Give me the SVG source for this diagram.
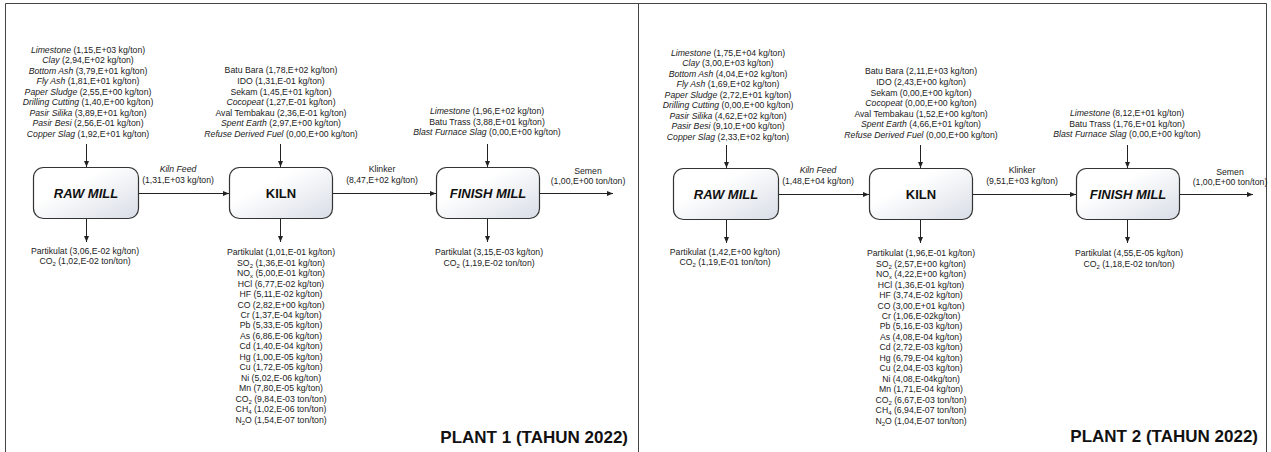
<svg xmlns="http://www.w3.org/2000/svg" width="1271" height="452" viewBox="0 0 1271 452">
<style>
.t{font-family:"Liberation Sans",Arial,sans-serif;font-size:8.7px;fill:#222;text-anchor:middle}
.i{font-style:italic}
.box{fill:url(#gr);stroke:#333;stroke-width:1.2}
.lbl{font-family:"Liberation Sans",Arial,sans-serif;font-size:13px;font-weight:bold;fill:#111;text-anchor:middle}
.edge{stroke:#222;stroke-width:1;fill:none;marker-end:url(#ah)}
.title{font-family:"Liberation Sans",Arial,sans-serif;font-size:17px;font-weight:bold;fill:#111;text-anchor:end}
.frame{stroke:#444;stroke-width:1;fill:none}
.sub{font-size:6px}
</style>
<defs>
<linearGradient id="gr" x1="0" y1="0" x2="1" y2="1">
<stop offset="0.35" stop-color="#ffffff"/>
<stop offset="1" stop-color="#d8dde6"/>
</linearGradient>
<marker id="ah" markerUnits="userSpaceOnUse" markerWidth="7" markerHeight="6" refX="6" refY="2.5" orient="auto">
<path d="M0,0 L6,2.5 L0,5 z" fill="#222"/>
</marker>
</defs>
<rect width="1271" height="452" fill="#fff"/>
<g id="frame">
<path class="frame" d="M5.5,460 V3.5 H1266.5 V460 M638.5,3.5 V460"/>
</g>

<g id="plant1">
<g id="connectors1">
<line class="edge" x1="86.5" y1="144" x2="86.5" y2="167"/>
<line class="edge" x1="280.5" y1="144" x2="280.5" y2="167"/>
<line class="edge" x1="487.5" y1="144" x2="487.5" y2="167"/>
<line class="edge" x1="138" y1="193.5" x2="229" y2="193.5"/>
<line class="edge" x1="332" y1="193.5" x2="436" y2="193.5"/>
<line class="edge" x1="539" y1="193.5" x2="613" y2="193.5"/>
<line class="edge" x1="86.5" y1="218" x2="86.5" y2="242"/>
<line class="edge" x1="280.5" y1="218" x2="280.5" y2="242"/>
<line class="edge" x1="487.5" y1="218" x2="487.5" y2="242"/>
</g>
<g id="rawmill1">
<rect class="box" x="33.5" y="167.5" width="105" height="51" rx="10"/>
<text class="lbl i" x="86" y="198">RAW MILL</text>
</g>
<g id="kiln1">
<rect class="box" x="229.5" y="167.5" width="103" height="51" rx="10"/>
<text class="lbl" x="281" y="198">KILN</text>
</g>
<g id="finishmill1">
<rect class="box" x="436.5" y="167.5" width="103" height="51" rx="10"/>
<text class="lbl i" x="488" y="198">FINISH MILL</text>
</g>
<g id="rawin1">
<text class="t" x="88" y="52.5"><tspan class="i">Limestone</tspan> (1,15,E+03 kg/ton)</text>
<text class="t" x="88" y="63"><tspan class="i">Clay</tspan> (2,94,E+02 kg/ton)</text>
<text class="t" x="88" y="73.5"><tspan class="i">Bottom Ash</tspan> (3,79,E+01 kg/ton)</text>
<text class="t" x="88" y="84"><tspan class="i">Fly Ash</tspan> (1,81,E+01 kg/ton)</text>
<text class="t" x="88" y="94.5"><tspan class="i">Paper Sludge</tspan> (2,55,E+00 kg/ton)</text>
<text class="t" x="88" y="105"><tspan class="i">Drilling Cutting</tspan> (1,40,E+00 kg/ton)</text>
<text class="t" x="88" y="115.5"><tspan class="i">Pasir Silika</tspan> (3,89,E+01 kg/ton)</text>
<text class="t" x="88" y="126"><tspan class="i">Pasir Besi</tspan> (2,56,E-01 kg/ton)</text>
<text class="t" x="88" y="136.5"><tspan class="i">Copper Slag</tspan> (1,92,E+01 kg/ton)</text>
</g>
<g id="kilnin1">
<text class="t" x="281" y="73.3">Batu Bara (1,78,E+02 kg/ton)</text>
<text class="t" x="281" y="83.9">IDO (1,31,E-01 kg/ton)</text>
<text class="t" x="281" y="94.5">Sekam (1,45,E+01 kg/ton)</text>
<text class="t" x="281" y="105.1"><tspan class="i">Cocopeat</tspan> (1,27,E-01 kg/ton)</text>
<text class="t" x="281" y="115.7">Aval Tembakau (2,36,E-01 kg/ton)</text>
<text class="t" x="281" y="126.3"><tspan class="i">Spent Earth</tspan> (2,97,E+00 kg/ton)</text>
<text class="t" x="281" y="136.9"><tspan class="i">Refuse Derived Fuel</tspan> (0,00,E+00 kg/ton)</text>
</g>
<g id="finishin1">
<text class="t" x="487" y="114"><tspan class="i">Limestone</tspan> (1,96,E+02 kg/ton)</text>
<text class="t" x="487" y="124.5">Batu Trass (3,88,E+01 kg/ton)</text>
<text class="t" x="487" y="135"><tspan class="i">Blast Furnace Slag</tspan> (0,00,E+00 kg/ton)</text>
</g>
<g id="flows1">
<text class="t i" x="178" y="172.3">Kiln Feed</text>
<text class="t" x="178" y="183">(1,31,E+03 kg/ton)</text>
<text class="t" x="382" y="172">Klinker</text>
<text class="t" x="382" y="182.5">(8,47,E+02 kg/ton)</text>
<text class="t" x="588" y="173.5">Semen</text>
<text class="t" x="588" y="184">(1,00,E+00 ton/ton)</text>
</g>
<g id="rawout1">
<text class="t" x="85" y="253.5">Partikulat (3,06,E-02 kg/ton)</text>
<text class="t" x="85" y="264">CO<tspan class="sub" dy="2">2</tspan><tspan dy="-2"> (1,02,E-02 ton/ton)</tspan></text>
</g>
<g id="kilnout1">
<text class="t" x="281" y="255.3">Partikulat (1,01,E-01 kg/ton)</text>
<text class="t" x="281" y="265.75">SO<tspan class="sub" dy="2">2</tspan><tspan dy="-2"> (1,36,E-01 kg/ton)</tspan></text>
<text class="t" x="281" y="276.2">NO<tspan class="sub" dy="2">x</tspan><tspan dy="-2"> (5,00,E-01 kg/ton)</tspan></text>
<text class="t" x="281" y="286.65">HCl (6,77,E-02 kg/ton)</text>
<text class="t" x="281" y="297.1">HF (5,11,E-02 kg/ton)</text>
<text class="t" x="281" y="307.55">CO (2,82,E+00 kg/ton)</text>
<text class="t" x="281" y="318">Cr (1,37,E-04 kg/ton)</text>
<text class="t" x="281" y="328.45">Pb (5,33,E-05 kg/ton)</text>
<text class="t" x="281" y="338.9">As (6,86,E-06 kg/ton)</text>
<text class="t" x="281" y="349.35">Cd (1,40,E-04 kg/ton)</text>
<text class="t" x="281" y="359.8">Hg (1,00,E-05 kg/ton)</text>
<text class="t" x="281" y="370.25">Cu (1,72,E-05 kg/ton)</text>
<text class="t" x="281" y="380.7">Ni (5,02,E-06 kg/ton)</text>
<text class="t" x="281" y="391.15">Mn (7,80,E-05 kg/ton)</text>
<text class="t" x="281" y="401.6">CO<tspan class="sub" dy="2">2</tspan><tspan dy="-2"> (9,84,E-03 ton/ton)</tspan></text>
<text class="t" x="281" y="412.05">CH<tspan class="sub" dy="2">4</tspan><tspan dy="-2"> (1,02,E-06 ton/ton)</tspan></text>
<text class="t" x="281" y="422.5">N<tspan class="sub" dy="2">2</tspan><tspan dy="-2">O (1,54,E-07 ton/ton)</tspan></text>
</g>
<g id="finishout1">
<text class="t" x="489" y="255.3">Partikulat (3,15,E-03 kg/ton)</text>
<text class="t" x="489" y="266">CO<tspan class="sub" dy="2">2</tspan><tspan dy="-2"> (1,19,E-02 ton/ton)</tspan></text>
</g>
</g>
<text id="title1" class="title" x="628" y="443">PLANT 1 (TAHUN 2022)</text>

<g id="plant2" transform="translate(640,1)">
<g id="connectors2">
<line class="edge" x1="86.5" y1="144" x2="86.5" y2="167"/>
<line class="edge" x1="280.5" y1="144" x2="280.5" y2="167"/>
<line class="edge" x1="487.5" y1="144" x2="487.5" y2="167"/>
<line class="edge" x1="138" y1="193.5" x2="229" y2="193.5"/>
<line class="edge" x1="332" y1="193.5" x2="436" y2="193.5"/>
<line class="edge" x1="539" y1="193.5" x2="613" y2="193.5"/>
<line class="edge" x1="86.5" y1="218" x2="86.5" y2="242"/>
<line class="edge" x1="280.5" y1="218" x2="280.5" y2="242"/>
<line class="edge" x1="487.5" y1="218" x2="487.5" y2="242"/>
</g>
<g id="rawmill2">
<rect class="box" x="33.5" y="167.5" width="105" height="51" rx="10"/>
<text class="lbl i" x="86" y="198">RAW MILL</text>
</g>
<g id="kiln2">
<rect class="box" x="229.5" y="167.5" width="103" height="51" rx="10"/>
<text class="lbl" x="281" y="198">KILN</text>
</g>
<g id="finishmill2">
<rect class="box" x="436.5" y="167.5" width="103" height="51" rx="10"/>
<text class="lbl i" x="488" y="198">FINISH MILL</text>
</g>
<g id="rawin2">
<text class="t" x="88" y="54.5"><tspan class="i">Limestone</tspan> (1,75,E+04 kg/ton)</text>
<text class="t" x="88" y="65"><tspan class="i">Clay</tspan> (3,00,E+03 kg/ton)</text>
<text class="t" x="88" y="75.5"><tspan class="i">Bottom Ash</tspan> (4,04,E+02 kg/ton)</text>
<text class="t" x="88" y="86"><tspan class="i">Fly Ash</tspan> (1,69,E+02 kg/ton)</text>
<text class="t" x="88" y="96.5"><tspan class="i">Paper Sludge</tspan> (2,72,E+01 kg/ton)</text>
<text class="t" x="88" y="107"><tspan class="i">Drilling Cutting</tspan> (0,00,E+00 kg/ton)</text>
<text class="t" x="88" y="117.5"><tspan class="i">Pasir Silika</tspan> (4,62,E+02 kg/ton)</text>
<text class="t" x="88" y="128"><tspan class="i">Pasir Besi</tspan> (9,10,E+00 kg/ton)</text>
<text class="t" x="88" y="138.5"><tspan class="i">Copper Slag</tspan> (2,33,E+02 kg/ton)</text>
</g>
<g id="kilnin2">
<text class="t" x="281" y="73.3">Batu Bara (2,11,E+03 kg/ton)</text>
<text class="t" x="281" y="83.9">IDO (2,43,E+00 kg/ton)</text>
<text class="t" x="281" y="94.5">Sekam (0,00,E+00 kg/ton)</text>
<text class="t" x="281" y="105.1"><tspan class="i">Cocopeat</tspan> (0,00,E+00 kg/ton)</text>
<text class="t" x="281" y="115.7">Aval Tembakau (1,52,E+00 kg/ton)</text>
<text class="t" x="281" y="126.3"><tspan class="i">Spent Earth</tspan> (4,66,E+01 kg/ton)</text>
<text class="t" x="281" y="136.9"><tspan class="i">Refuse Derived Fuel</tspan> (0,00,E+00 kg/ton)</text>
</g>
<g id="finishin2">
<text class="t" x="487" y="115">
<tspan class="i">Limestone</tspan> (8,12,E+01 kg/ton)</text>
<text class="t" x="487" y="125.5">Batu Trass (1,76,E+01 kg/ton)</text>
<text class="t" x="487" y="136"><tspan class="i">Blast Furnace Slag</tspan> (0,00,E+00 kg/ton)</text>
</g>
<g id="flows2">
<text class="t i" x="178" y="172.3">Kiln Feed</text>
<text class="t" x="178" y="183">(1,48,E+04 kg/ton)</text>
<text class="t" x="382" y="172">Klinker</text>
<text class="t" x="382" y="182.5">(9,51,E+03 kg/ton)</text>
<text class="t" x="590" y="173.5">Semen</text>
<text class="t" x="590" y="184">(1,00,E+00 ton/ton)</text>
</g>
<g id="rawout2">
<text class="t" x="85" y="253.5">Partikulat (1,42,E+00 kg/ton)</text>
<text class="t" x="85" y="264">CO<tspan class="sub" dy="2">2</tspan><tspan dy="-2"> (1,19,E-01 ton/ton)</tspan></text>
</g>
<g id="kilnout2">
<text class="t" x="281" y="255.3">Partikulat (1,96,E-01 kg/ton)</text>
<text class="t" x="281" y="265.75">SO<tspan class="sub" dy="2">2</tspan><tspan dy="-2"> (2,57,E+00 kg/ton)</tspan></text>
<text class="t" x="281" y="276.2">NO<tspan class="sub" dy="2">x</tspan><tspan dy="-2"> (4,22,E+00 kg/ton)</tspan></text>
<text class="t" x="281" y="286.65">HCl (1,36,E-01 kg/ton)</text>
<text class="t" x="281" y="297.1">HF (3,74,E-02 kg/ton)</text>
<text class="t" x="281" y="307.55">CO (3,00,E+01 kg/ton)</text>
<text class="t" x="281" y="318">Cr (1,06,E-02kg/ton)</text>
<text class="t" x="281" y="328.45">Pb (5,16,E-03 kg/ton)</text>
<text class="t" x="281" y="338.9">As (4,08,E-04 kg/ton)</text>
<text class="t" x="281" y="349.35">Cd (2,72,E-03 kg/ton)</text>
<text class="t" x="281" y="359.8">Hg (6,79,E-04 kg/ton)</text>
<text class="t" x="281" y="370.25">Cu (2,04,E-03 kg/ton)</text>
<text class="t" x="281" y="380.7">Ni (4,08,E-04kg/ton)</text>
<text class="t" x="281" y="391.15">Mn (1,71,E-04 kg/ton)</text>
<text class="t" x="281" y="401.6">CO<tspan class="sub" dy="2">2</tspan><tspan dy="-2"> (6,67,E-03 ton/ton)</tspan></text>
<text class="t" x="281" y="412.05">CH<tspan class="sub" dy="2">4</tspan><tspan dy="-2"> (6,94,E-07 ton/ton)</tspan></text>
<text class="t" x="281" y="422.5">N<tspan class="sub" dy="2">2</tspan><tspan dy="-2">O (1,04,E-07 ton/ton)</tspan></text>
</g>
<g id="finishout2">
<text class="t" x="489" y="255.3">Partikulat (4,55,E-05 kg/ton)</text>
<text class="t" x="489" y="266">CO<tspan class="sub" dy="2">2</tspan><tspan dy="-2"> (1,18,E-02 ton/ton)</tspan></text>
</g>
</g>
<text id="title2" class="title" x="1258" y="442">PLANT 2 (TAHUN 2022)</text>
</svg>
